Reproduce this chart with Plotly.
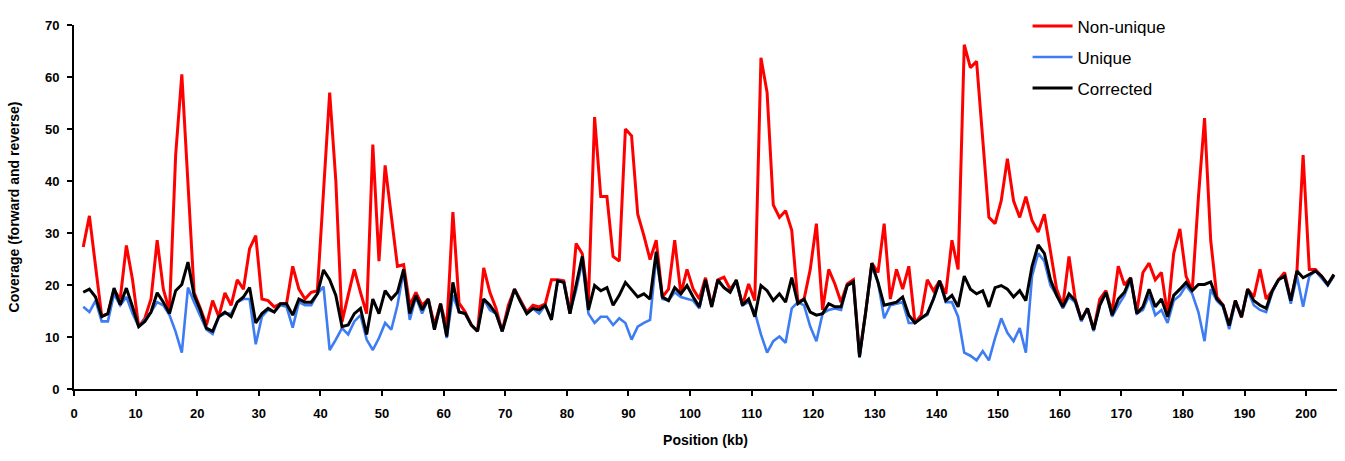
import numpy as np
import plotly.graph_objects as go

# Window midpoints (kb)
positions = np.arange(1.5, 205.0, 1.0)

non_unique = [
    27.3, 33.3, 23.6, 14.0, 14.5, 19.0, 17.3, 27.6, 21.0, 12.0,
    13.6, 17.3, 28.6, 19.2, 15.0, 45.0, 60.5, 40.0, 18.5, 15.5,
    12.3, 17.0, 13.9, 18.5, 16.1, 21.0, 19.2, 27.0, 29.5, 17.3,
    17.0, 15.8, 16.4, 16.4, 23.6, 19.2, 17.3, 18.6, 18.9, 38.0,
    57.0, 40.0, 12.9, 18.0, 23.0, 18.6, 14.5, 47.0, 24.6, 43.0,
    33.6, 23.6, 23.9, 16.1, 18.6, 16.1, 17.3, 12.3, 16.4, 11.7,
    34.0, 16.5, 14.8, 12.3, 11.1, 23.3, 18.6, 15.5, 11.1, 16.1,
    19.2, 17.0, 14.8, 16.1, 15.8, 16.4, 21.0, 21.0, 20.8, 14.5,
    28.0, 26.0, 17.0, 52.3, 37.0, 37.0, 25.5, 24.6, 50.0, 48.7,
    33.6, 29.5, 24.9, 28.6, 17.7, 19.2, 28.6, 18.3, 23.0, 19.2,
    17.3, 21.4, 16.1, 21.0, 21.5, 19.2, 20.8, 16.1, 20.2, 17.0,
    63.7, 57.0, 35.4, 33.0, 34.3, 30.5, 16.7, 17.3, 23.0, 31.8,
    15.2, 23.0, 20.2, 16.7, 20.2, 21.0, 6.6, 14.8, 24.2, 22.4,
    31.8, 17.3, 23.0, 19.2, 23.6, 12.7, 14.2, 21.0, 18.9, 20.8,
    18.3, 28.6, 23.0, 66.2, 61.8, 63.0, 47.5, 33.0, 31.8, 36.2,
    44.3, 36.2, 33.0, 37.0, 32.4, 30.2, 33.6, 26.1, 19.2, 16.0,
    25.5, 17.3, 13.3, 15.5, 11.4, 17.3, 18.9, 14.8, 23.6, 20.0,
    21.4, 14.8, 22.4, 24.2, 21.0, 22.4, 14.2, 26.1, 30.8, 21.7,
    18.9, 36.8, 52.1, 28.6, 17.7, 16.1, 12.2, 17.0, 13.8, 19.2,
    17.7, 23.0, 17.3, 18.9, 21.0, 22.4, 17.0, 22.7, 45.0, 23.0,
    23.0, 21.7, 20.1, 22.0,
]

unique = [
    15.8, 14.8, 17.0, 13.0, 13.0, 18.3, 16.1, 17.7, 14.5, 12.0,
    13.3, 14.8, 16.7, 16.1, 14.2, 11.0, 7.0, 19.5, 16.7, 14.0,
    11.4, 10.6, 13.9, 14.5, 14.5, 16.7, 17.3, 17.3, 8.6, 13.9,
    15.2, 14.8, 16.1, 15.8, 11.8, 16.7, 16.1, 16.1, 18.3, 19.7,
    7.5, 9.5, 11.7, 10.5, 13.0, 14.2, 9.5, 7.5, 9.8, 12.7,
    11.4, 16.1, 22.7, 13.3, 17.7, 14.5, 17.3, 11.4, 16.1, 9.8,
    18.0, 14.8, 14.5, 12.3, 11.1, 17.3, 15.2, 14.5, 11.1, 15.2,
    19.2, 16.7, 14.5, 15.5, 14.5, 16.1, 13.3, 20.8, 20.5, 14.8,
    19.0, 24.5, 14.5, 12.7, 13.9, 13.9, 12.3, 13.6, 12.7, 9.5,
    12.0, 12.7, 13.3, 25.5, 17.3, 17.0, 18.6, 17.7, 17.3, 17.0,
    15.5, 20.8, 15.8, 20.8, 19.5, 18.6, 20.8, 16.1, 16.7, 14.8,
    10.5, 7.0, 9.2, 10.1, 8.9, 15.5, 16.7, 16.1, 12.0, 9.2,
    14.5, 15.2, 15.5, 15.2, 19.9, 20.4, 6.0, 14.8, 23.6, 20.5,
    13.6, 16.1, 16.4, 16.7, 12.7, 12.7, 13.6, 14.2, 17.3, 20.5,
    16.7, 16.7, 13.9, 7.0, 6.4, 5.5, 7.3, 5.5, 9.8, 13.6,
    10.8, 9.2, 11.7, 7.0, 21.7, 26.1, 24.6, 19.9, 18.0, 15.5,
    17.7, 16.7, 13.0, 15.5, 11.1, 16.1, 18.6, 13.9, 16.1, 18.0,
    21.0, 14.5, 15.2, 18.0, 14.2, 15.2, 12.7, 17.0, 18.0, 19.9,
    18.3, 14.8, 9.2, 19.2, 17.0, 15.8, 11.5, 16.7, 14.0, 19.0,
    16.1, 15.2, 14.8, 18.6, 21.0, 21.7, 16.4, 21.7, 15.8, 21.7,
    22.7, 21.4, 19.9, 21.7,
]

corrected = [
    18.6, 19.2, 17.7, 13.9, 14.5, 19.4, 16.2, 19.4, 15.8, 12.0,
    13.0, 14.8, 18.5, 16.7, 14.5, 18.9, 20.1, 24.4, 18.0, 15.2,
    11.7, 11.1, 13.9, 14.8, 13.9, 16.7, 17.7, 19.5, 12.7, 14.5,
    15.5, 14.8, 16.4, 16.4, 14.2, 17.3, 16.7, 16.7, 18.3, 22.9,
    21.0, 18.0, 12.0, 12.3, 14.5, 15.5, 10.5, 17.3, 14.5, 18.9,
    17.3, 18.6, 23.0, 14.5, 18.0, 15.2, 17.3, 11.4, 16.4, 10.1,
    20.5, 14.8, 14.5, 12.3, 11.1, 17.3, 16.1, 14.5, 11.1, 15.2,
    19.2, 16.7, 14.5, 15.5, 15.2, 16.1, 13.3, 20.8, 20.5, 14.5,
    19.9, 25.5, 15.2, 19.9, 18.9, 19.5, 16.1, 18.0, 20.5, 19.2,
    17.7, 18.3, 17.3, 26.4, 17.7, 17.0, 19.5, 18.3, 19.9, 17.7,
    15.8, 21.0, 15.8, 21.0, 19.5, 18.6, 21.0, 16.1, 17.3, 13.9,
    19.9, 18.9, 17.0, 18.3, 16.7, 21.4, 16.4, 17.3, 14.8, 14.2,
    14.5, 16.4, 15.8, 15.8, 19.9, 20.6, 6.2, 14.8, 24.2, 20.5,
    16.1, 16.4, 16.7, 17.7, 14.2, 12.7, 13.6, 14.5, 17.3, 20.8,
    17.0, 18.0, 15.8, 21.7, 19.2, 18.3, 18.9, 15.8, 19.5, 19.9,
    19.2, 17.7, 18.9, 17.0, 23.6, 27.7, 26.1, 21.0, 18.0, 15.8,
    18.3, 17.0, 13.3, 15.5, 11.4, 16.1, 18.6, 14.2, 17.3, 18.6,
    21.4, 14.5, 15.8, 19.2, 15.8, 17.3, 13.9, 18.0, 19.2, 20.5,
    18.9, 20.1, 20.1, 20.6, 17.3, 16.1, 12.2, 17.0, 13.8, 19.2,
    17.0, 16.1, 15.5, 18.9, 21.0, 21.7, 17.0, 22.7, 21.4, 22.0,
    22.7, 21.7, 20.1, 22.0,
]

x_ticks = list(range(0, 201, 10))
y_ticks = list(range(0, 71, 10))

FONT = "Liberation Sans, Arial, sans-serif"

fig = go.Figure()
fig.add_trace(go.Scatter(x=positions, y=non_unique, mode="lines", name="Non-unique",
                         legendgroup="a", line=dict(color="#ff0000", width=3)))
fig.add_trace(go.Scatter(x=positions, y=unique, mode="lines", name="Unique",
                         legendgroup="b", line=dict(color="#3d7cf2", width=2.6)))
fig.add_trace(go.Scatter(x=positions, y=corrected, mode="lines", name="Corrected",
                         legendgroup="c", line=dict(color="#000000", width=3)))

axis_common = dict(
    showgrid=False, zeroline=False, showline=True, linecolor="black", linewidth=2,
    ticks="outside", ticklen=5, tickwidth=2, tickcolor="black",
    tickfont=dict(family=FONT, size=13, color="black", weight="bold"),
    automargin=False,
)

fig.update_layout(
    width=1345, height=461,
    margin=dict(l=74, r=8, t=17, b=72, pad=0),
    paper_bgcolor="white", plot_bgcolor="white",
    font=dict(family=FONT, color="black"),
    xaxis=dict(range=[0, 205], tickvals=x_ticks, ticklabelstandoff=6,
               title=dict(text="Position (kb)", font=dict(family=FONT, size=14, weight="bold"), standoff=16),
               **axis_common),
    yaxis=dict(range=[0, 70], tickvals=y_ticks, ticklabelstandoff=5,
               title=dict(text="Coverage (forward and reverse)", font=dict(family=FONT, size=14, weight="bold"), standoff=22),
               **axis_common),
    legend=dict(x=0.755, y=1.0457, xanchor="left", yanchor="top",
                font=dict(family=FONT, size=17, color="black"),
                bgcolor="rgba(0,0,0,0)", tracegroupgap=6, traceorder="grouped",
                itemwidth=40),
    showlegend=True,
)

fig.write_html("out.html",
               config={"displayModeBar": False},
               post_script="document.body.style.margin='0';document.body.style.overflow='hidden';")
